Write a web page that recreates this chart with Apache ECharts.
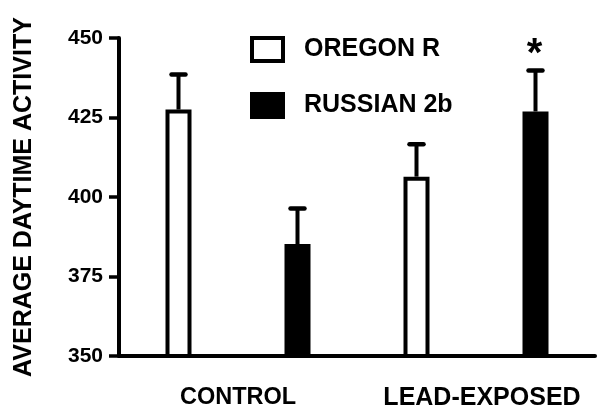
<!DOCTYPE html>
<html>
<head>
<meta charset="utf-8">
<script src="https://cdn.jsdelivr.net/npm/echarts@6/dist/echarts.min.js"></script>
<style>html,body{margin:0;padding:0;background:#fff}#c{width:602px;height:412px}</style>
</head>
<body>
<div id="c"></div>
<script>
// ---- data ----
var groups = ['CONTROL', 'LEAD-EXPOSED'];
var strains = ['OREGON R', 'RUSSIAN 2b'];
var oregonMean = [427.5, 406.4];
var oregonUpper = [438.5, 416.6];
var russianMean = [385.2, 426.9];
var russianUpper = [396.4, 439.8];
var oregonSig = ['', ''];
var russianSig = ['', '*'];
var yTicks = [350, 375, 400, 425, 450];

// ---- build slots: each group has one slot per strain ----
var slots = [];
var oregonData = [], russianData = [], errData = [];
groups.forEach(function (g, gi) {
  slots.push(g + ' ' + strains[0]);
  oregonData.push(oregonMean[gi]); russianData.push('-');
  errData.push([slots.length - 1, oregonMean[gi], oregonUpper[gi], oregonSig[gi]]);
  slots.push(g + ' ' + strains[1]);
  oregonData.push('-'); russianData.push(russianMean[gi]);
  errData.push([slots.length - 1, russianMean[gi], russianUpper[gi], russianSig[gi]]);
});

var FONT = 'Liberation Sans, Arial, Helvetica, sans-serif';
var chart = echarts.init(document.getElementById('c'), null, {renderer: 'canvas'});
chart.setOption({
  animation: false,
  backgroundColor: '#fff',
  grid: {left: 119, right: 7, top: 38, bottom: 56},
  legend: {
    orient: 'vertical', left: 245, top: 31, itemWidth: 31, itemHeight: 23, itemGap: 29,
    icon: 'rect',
    itemStyle: {borderWidth: 4, borderColor: '#000'},
    textStyle: {fontFamily: FONT, fontSize: 25, fontWeight: 'bold', color: '#000', padding: [0, 0, 0, 16]},
    data: strains
  },
  xAxis: [{
    type: 'category', data: slots,
    axisLine: {lineStyle: {color: '#000', width: 4}},
    axisTick: {alignWithLabel: true, length: 10, lineStyle: {color: '#000', width: 3.5}},
    axisLabel: {show: false}
  }, {
    type: 'category', data: groups, position: 'bottom',
    axisLine: {show: false}, axisTick: {show: false},
    axisLabel: {
      margin: 30, color: '#000', fontFamily: FONT, fontWeight: 'bold',
      formatter: function (v, i) { return i === 0 ? '{a|' + v + '}' : '{b|' + v + '}'; },
      rich: {
        a: {fontSize: 23.5, fontWeight: 'bold', fontFamily: FONT, color: '#000'},
        b: {fontSize: 25, fontWeight: 'bold', fontFamily: FONT, color: '#000', padding: [0, 0, 0, 12]}
      }
    }
  }],
  yAxis: {
    type: 'value', min: yTicks[0], max: yTicks[yTicks.length - 1], interval: 25,
    name: 'AVERAGE DAYTIME ACTIVITY', nameLocation: 'middle', nameGap: 82,
    nameTextStyle: {fontFamily: FONT, fontSize: 25, fontWeight: 'bold', color: '#000'},
    axisLine: {show: true, lineStyle: {color: '#000', width: 4}},
    axisTick: {show: true, length: 10, lineStyle: {color: '#000', width: 3.5}},
    axisLabel: {margin: 16, fontFamily: FONT, fontSize: 21, fontWeight: 'bold', color: '#000'},
    splitLine: {show: false}
  },
  series: [{
    name: strains[0], type: 'bar', data: oregonData, barWidth: 26, barGap: '-100%',
    itemStyle: {color: '#fff', borderColor: '#000', borderWidth: 4}, z: 2
  }, {
    name: strains[1], type: 'bar', data: russianData, barWidth: 26,
    itemStyle: {color: '#000', borderColor: '#000', borderWidth: 4}, z: 2
  }, {
    type: 'custom', data: errData, z: 3,
    renderItem: function (params, api) {
      var x = api.value(0);
      var top = api.coord([x, api.value(1)]);
      var cap = api.coord([x, api.value(2)]);
      var sig = errData[params.dataIndex][3];
      var children = [{
        type: 'line', shape: {x1: top[0], y1: top[1], x2: cap[0], y2: cap[1]},
        style: {stroke: '#000', lineWidth: 4}
      }, {
        type: 'line', shape: {x1: cap[0] - 7, y1: cap[1], x2: cap[0] + 7, y2: cap[1]},
        style: {stroke: '#000', lineWidth: 4.5, lineCap: 'round'}
      }];
      if (sig) {
        children.push({
          type: 'text', x: cap[0] - 1, y: cap[1] + 5,
          style: {text: sig, font: 'bold 40px ' + FONT, fill: '#000', align: 'center', verticalAlign: 'bottom'}
        });
      }
      return {type: 'group', children: children};
    }
  }]
});
</script>
</body>
</html>
